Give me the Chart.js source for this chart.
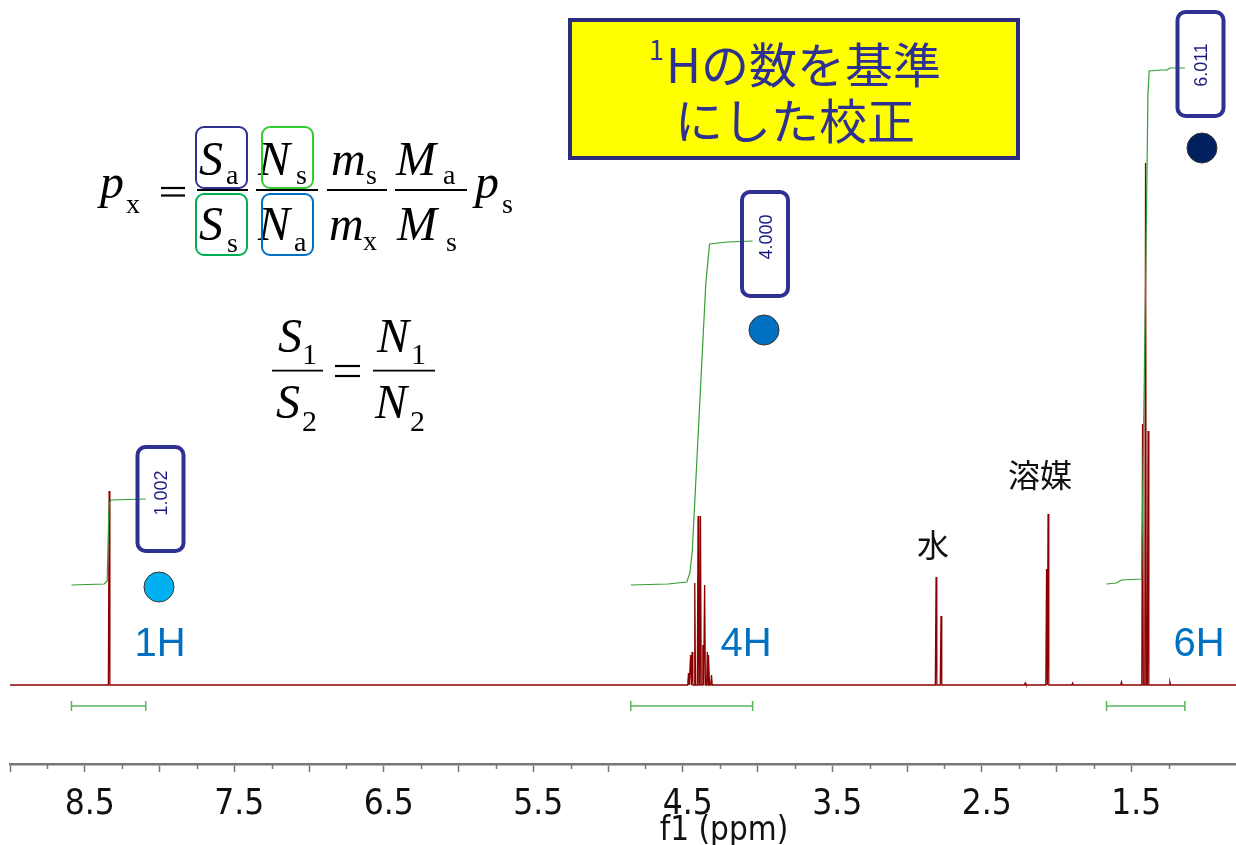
<!DOCTYPE html>
<html lang="ja">
<head>
<meta charset="utf-8">
<title>1H qNMR</title>
<script src="https://cdn.jsdelivr.net/npm/chart.js@4.4.1/dist/chart.umd.min.js"></script>
<style>
  html, body { margin: 0; padding: 0; background: #fff; }
  #wrap { position: relative; width: 1236px; height: 845px; }
</style>
</head>
<body>
<div id="wrap"><canvas id="nmr-chart"></canvas></div>
<script>
// ピーク (ppm) と高さ — 画像から読み取り
const peakShifts  = [8.337, 4.462, 4.448, 4.438, 4.420, 4.398, 4.382, 4.366, 4.354, 4.336, 4.326, 4.308,
                     2.806, 2.773, 2.210, 2.067, 2.057, 1.893, 1.566, 1.425, 1.405, 1.388, 1.242];
const peakHeights = [194, 12, 30, 33, 102, 169, 169, 40, 100, 33, 30, 10,
                     108, 69, 2, 116, 171, 2, 3, 261, 522, 254, 3];

// 積分曲線 [ppm, level]
const integCurve1H = [[8.589, 100], [8.370, 101], [8.350, 104], [8.338, 180], [8.326, 185], [8.092, 186]];
const integCurve4H = [[4.848, 100], [4.600, 101], [4.473, 103], [4.453, 112], [4.437, 133], [4.346, 402],
                      [4.321, 441], [4.200, 443], [4.033, 444]];
const integCurve6H = [[1.666, 101], [1.600, 102], [1.566, 105], [1.432, 106], [1.423, 200], [1.403, 420],
                      [1.389, 590], [1.381, 614], [1.300, 615], [1.262, 615], [1.242, 617], [1.142, 617]];

// 積分範囲と値
const integRanges = [[8.589, 8.092], [4.848, 4.033], [1.666, 1.142]];
const integValues = ['1.002', '4.000', '6.011'];
const protonLabels = ['1H', '4H', '6H'];

// 軸
const tickLabels = ['8.5', '7.5', '6.5', '5.5', '4.5', '3.5', '2.5', '1.5'];
const axisMin = 0.8, axisMax = 9.0;

// スペクトル点列を作る
function buildSpectrum() {
    const hw = 0.005;
    const pts = [{x: axisMax, y: 0}];
    peakShifts.forEach((p, i) => {
        pts.push({x: p + hw, y: 0}, {x: p, y: peakHeights[i]}, {x: p - hw, y: 0});
    });
    pts.push({x: axisMin, y: 0});
    pts.sort((a, b) => b.x - a.x);
    return pts;
}

const toXY = arr => arr.map(d => ({x: d[0], y: d[1]}));
const barLevel = -21;

const isQuarter = v => Math.abs(v * 4 - Math.round(v * 4)) < 1e-6;
const isHalf = v => Math.abs(v * 2 - Math.round(v * 2)) < 1e-6;

function rrect(ctx, x, y, w, h, r) {
    ctx.beginPath();
    ctx.moveTo(x + r, y);
    ctx.arcTo(x + w, y, x + w, y + h, r);
    ctx.arcTo(x + w, y + h, x, y + h, r);
    ctx.arcTo(x, y + h, x, y, r);
    ctx.arcTo(x, y, x + w, y, r);
    ctx.closePath();
}

// 数式
function drawFormula(ctx) {
    const it = 'italic 48px "Liberation Serif", "Times New Roman", serif';
    const sub = '28px "Liberation Serif", "Times New Roman", serif';
    const sub2 = '30px "Liberation Serif", "Times New Roman", serif';
    const t = (s, x, y, f) => { ctx.font = f; ctx.fillText(s, x, y); };
    const hl = (x1, x2, y, w) => {
        ctx.beginPath(); ctx.lineWidth = w || 1.8;
        ctx.moveTo(x1, y); ctx.lineTo(x2, y); ctx.stroke();
    };
    ctx.fillStyle = '#000';
    ctx.strokeStyle = '#000';
    ctx.textAlign = 'left';
    ctx.textBaseline = 'alphabetic';

    t('p', 100, 198, it); t('x', 126, 213, sub);
    hl(161, 185, 188, 2.2); hl(161, 185, 195.5, 2.2);
    hl(197, 248, 190); hl(256, 318, 190); hl(327, 387, 190); hl(395, 467, 190);
    t('S', 199, 175, it); t('a', 226, 184, sub);
    t('S', 199, 240, it); t('s', 227, 252, sub);
    t('N', 258, 175, it); t('s', 296, 184, sub);
    t('N', 258, 240, it); t('a', 294, 251, sub);
    t('m', 331, 175, it); t('s', 366, 184, sub);
    t('m', 329, 240, it); t('x', 363, 250, sub);
    t('M', 396, 175, it); t('a', 443, 184, sub);
    t('M', 397, 240, it); t('s', 446, 251, sub);
    t('p', 475, 198, it); t('s', 502, 213, sub);

    // 色枠
    const boxes = [
        [196, 127, '#2E3192'], [262, 127, '#33CC33'],
        [196, 194, '#00B050'], [262, 194, '#0070C0']
    ];
    ctx.lineWidth = 2;
    boxes.forEach(b => {
        ctx.strokeStyle = b[2];
        rrect(ctx, b[0], b[1], 51, 61, 8);
        ctx.stroke();
    });

    // S1/S2 = N1/N2
    ctx.strokeStyle = '#000';
    hl(272, 323, 370.7); hl(373, 435, 370.7);
    hl(335, 360, 366, 2.2); hl(335, 360, 376, 2.2);
    t('S', 278, 352, it); t('1', 302, 364, sub2);
    t('S', 276, 418, it); t('2', 302, 431, sub2);
    t('N', 377, 352, it); t('1', 411, 364, sub2);
    t('N', 375, 418, it); t('2', 410, 431, sub2);
}

const annotationPlugin = {
    id: 'nmrAnnotations',
    afterDraw(chart) {
        const ctx = chart.ctx;
        const xs = chart.scales.x;
        const area = chart.chartArea;
        ctx.save();

        // 副目盛り
        ctx.strokeStyle = '#777';
        ctx.lineWidth = 1.5;
        xs.ticks.forEach(tk => {
            if (isQuarter(tk.value) && !isHalf(tk.value)) {
                const px = Math.round(xs.getPixelForValue(tk.value)) + 0.5;
                ctx.beginPath();
                ctx.moveTo(px, area.bottom);
                ctx.lineTo(px, area.bottom + 5);
                ctx.stroke();
            }
        });

        // 軸タイトル
        ctx.fillStyle = '#111';
        ctx.font = '33px "Liberation Sans Narrow", "DejaVu Sans Condensed", "Liberation Sans", sans-serif';
        ctx.textAlign = 'center';
        ctx.textBaseline = 'middle';
        ctx.fillText('f1 (ppm)', 724, 831);

        // 黄色の枠
        ctx.fillStyle = '#FFFF00';
        ctx.fillRect(570, 20, 448, 138);
        ctx.strokeStyle = '#2B2C7C';
        ctx.lineWidth = 4;
        ctx.strokeRect(570, 20, 448, 138);
        ctx.fillStyle = '#2E3192';
        const jp = '"Noto Sans CJK JP", sans-serif';
        ctx.font = '48px ' + jp;
        const w1 = ctx.measureText('Hの数を基準').width;
        ctx.font = '27px ' + jp;
        const w0 = ctx.measureText('1').width;
        const sx = 795 - (w0 + 2 + w1) / 2;
        ctx.textAlign = 'left';
        ctx.fillText('1', sx, 50);
        ctx.font = '48px ' + jp;
        ctx.fillText('Hの数を基準', sx + w0 + 2, 65);
        ctx.textAlign = 'center';
        ctx.fillText('にした校正', 795, 121);

        // 積分値ボックス
        const valBoxes = [[160.5, 447, 46], [765, 192, 45], [1200.5, 12, 53]];
        valBoxes.forEach((b, i) => {
            ctx.strokeStyle = '#2E3192';
            ctx.lineWidth = 4;
            rrect(ctx, b[0] - 23, b[1], 46, 104, 8);
            ctx.stroke();
            ctx.save();
            ctx.translate(b[0] + 2, b[1] + b[2]);
            ctx.rotate(-Math.PI / 2);
            ctx.fillStyle = '#1A1A80';
            ctx.font = '18px "Liberation Sans", Arial, sans-serif';
            ctx.textAlign = 'center';
            ctx.textBaseline = 'middle';
            ctx.fillText(integValues[i], 0, 0);
            ctx.restore();
        });

        // 丸印
        const dots = [[159, 587, '#00B0F0'], [764, 330, '#0070C0'], [1202, 148, '#002060']];
        dots.forEach(d => {
            ctx.beginPath();
            ctx.arc(d[0], d[1], 15, 0, Math.PI * 2);
            ctx.fillStyle = d[2];
            ctx.fill();
            ctx.lineWidth = 1;
            ctx.strokeStyle = '#333';
            ctx.stroke();
        });

        // プロトン数ラベル
        const hPos = [[160, 645], [746, 645], [1199, 645]];
        ctx.fillStyle = '#0070C0';
        ctx.font = '40px "Liberation Sans", Arial, sans-serif';
        ctx.textAlign = 'center';
        ctx.textBaseline = 'middle';
        hPos.forEach((p, i) => ctx.fillText(protonLabels[i], p[0], p[1]));

        // 水・溶媒
        ctx.fillStyle = '#111';
        ctx.font = '32px ' + jp;
        ctx.fillText('水', 933, 545);
        ctx.fillText('溶媒', 1040, 475);

        drawFormula(ctx);
        ctx.restore();
    }
};

const integColor = '#339E33';
const barColor = '#5DB55D';

function barDataset(r) {
    return {
        data: [{x: r[0], y: barLevel}, {x: r[1], y: barLevel}],
        borderColor: barColor,
        borderWidth: 1.5,
        pointStyle: 'line',
        pointRotation: 90,
        pointRadius: 5,
        pointBorderColor: barColor,
        pointBorderWidth: 1.5,
        pointHoverRadius: 5
    };
}

const ctx = document.getElementById('nmr-chart').getContext('2d');
window.nmrChart = new Chart(ctx, {
    type: 'line',
    data: {
        datasets: [
            {data: toXY(integCurve1H), borderColor: integColor, borderWidth: 1.2, pointRadius: 0},
            {data: toXY(integCurve4H), borderColor: integColor, borderWidth: 1.2, pointRadius: 0},
            {data: toXY(integCurve6H), borderColor: integColor, borderWidth: 1.2, pointRadius: 0},
            {data: buildSpectrum(), borderColor: '#8B0000', borderWidth: 1.3, pointRadius: 0},
            ...integRanges.map(barDataset)
        ]
    },
    options: {
        responsive: true,
        maintainAspectRatio: false,
        animation: false,
        events: [],
        layout: {autoPadding: false, padding: {left: 10, right: 0, top: 0, bottom: 7}},
        elements: {line: {tension: 0}},
        plugins: {
            legend: {display: false},
            tooltip: {enabled: false}
        },
        scales: {
            x: {
                type: 'linear',
                reverse: true,
                min: axisMin,
                max: axisMax,
                border: {display: true, color: '#777', width: 2.5},
                grid: {
                    display: true,
                    drawOnChartArea: false,
                    drawTicks: true,
                    tickLength: 8,
                    tickWidth: 1.5,
                    tickColor: c => (c.tick && isHalf(c.tick.value)) ? '#777' : 'rgba(0,0,0,0)'
                },
                ticks: {
                    stepSize: 0.25,
                    autoSkip: false,
                    maxRotation: 0,
                    padding: 0,
                    labelOffset: 5,
                    color: '#111',
                    font: {size: 35, lineHeight: 1.886, family: '"Liberation Sans Narrow", "DejaVu Sans Condensed", "Liberation Sans", sans-serif'},
                    callback: v => {
                        const s = Number(v).toFixed(1);
                        return tickLabels.includes(s) && isHalf(v) ? s : '';
                    }
                }
            },
            y: {
                display: false,
                min: -79,
                max: 685
            }
        }
    },
    plugins: [annotationPlugin]
});
</script>
</body>
</html>
